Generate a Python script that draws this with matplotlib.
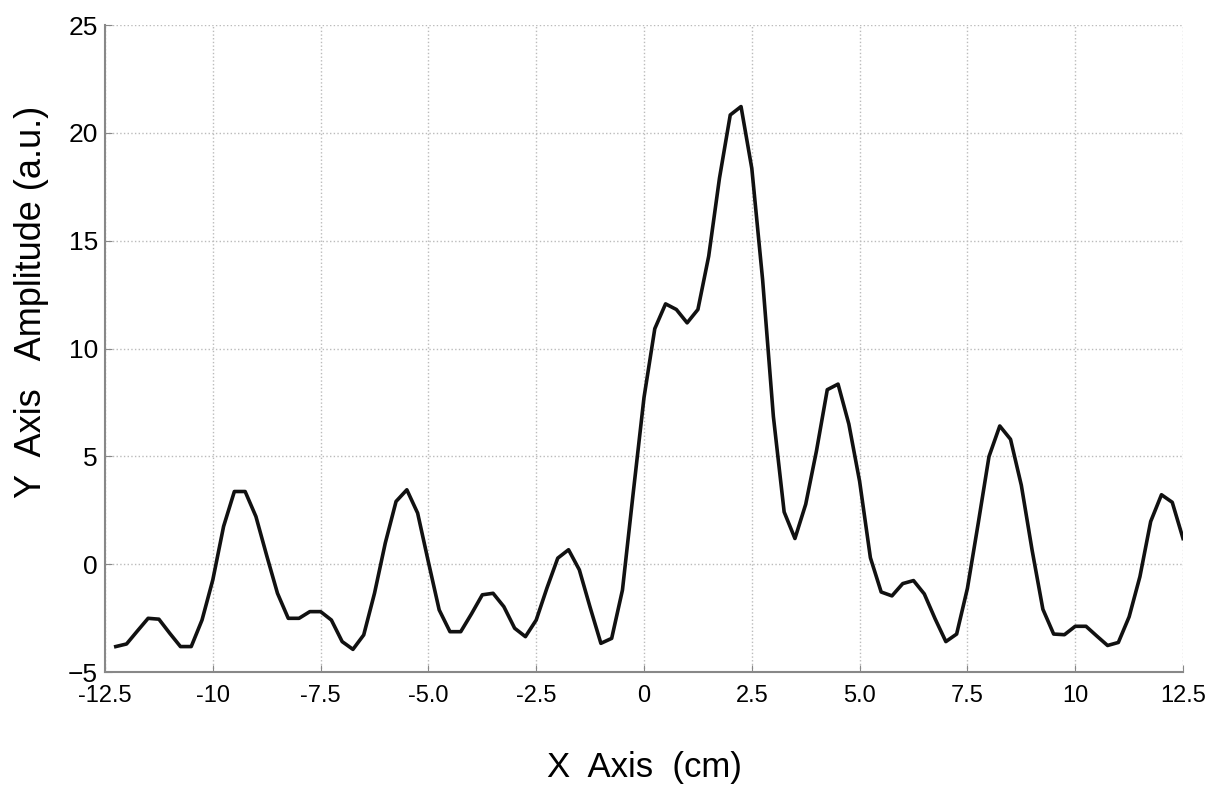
import numpy as np
import matplotlib
matplotlib.use("Agg")
import matplotlib.pyplot as plt

plt.rcParams['font.family'] = ['Liberation Sans', 'DejaVu Sans']

x_cm = np.arange(-12.25, 12.51, 0.25)
amplitude = [
    -3.82, -3.70, -3.10, -2.51, -2.55, -3.20, -3.82, -3.82, -2.59, -0.73,
    1.75, 3.37, 3.37, 2.21, 0.40, -1.35, -2.51, -2.51, -2.20, -2.20,
    -2.59, -3.59, -3.95, -3.28, -1.35, 0.98, 2.91, 3.45, 2.37, 0.10,
    -2.12, -3.13, -3.13, -2.30, -1.42, -1.35, -1.97, -2.97, -3.36, -2.59,
    -1.10, 0.28, 0.67, -0.26, -2.00, -3.67, -3.44, -1.20, 3.31, 7.73,
    10.92, 12.07, 11.81, 11.19, 11.81, 14.28, 17.90, 20.83, 21.22, 18.35,
    13.20, 6.85, 2.42, 1.19, 2.78, 5.26, 8.09, 8.35, 6.50, 3.84,
    0.30, -1.29, -1.47, -0.90, -0.76, -1.38, -2.53, -3.59, -3.24, -1.12,
    1.89, 4.99, 6.41, 5.79, 3.66, 0.65, -2.09, -3.24, -3.27, -2.88,
    -2.88, -3.33, -3.77, -3.63, -2.44, -0.58, 1.98, 3.22, 2.87, 1.19,
]

x_ticks = [-12.5, -10, -7.5, -5, -2.5, 0, 2.5, 5, 7.5, 10, 12.5]
x_tick_labels = ['-12.5', '-10', '-7.5', '-5.0', '-2.5', '0', '2.5', '5.0', '7.5', '10', '12.5']
y_ticks = [-5, 0, 5, 10, 15, 20, 25]

fig = plt.figure(figsize=(12.11, 7.92), dpi=100)
ax = fig.add_axes([0.0867, 0.1515, 0.8902, 0.8169])

ax.plot(x_cm, amplitude, color='#111111', linewidth=2.6)

ax.set_xlim(-12.5, 12.5)
ax.set_ylim(-5, 25)
ax.set_xticks(x_ticks)
ax.set_xticklabels(x_tick_labels)
ax.set_yticks(y_ticks)

ax.grid(True, linestyle=':', color='#bbbbbb', linewidth=1.0)
ax.set_axisbelow(True)

for side in ['top', 'right']:
    ax.spines[side].set_visible(False)
for side in ['left', 'bottom']:
    ax.spines[side].set_color('#888888')
    ax.spines[side].set_linewidth(1.5)

ax.tick_params(axis='both', direction='in', length=5, color='#888888')
ax.tick_params(axis='x', labelsize=17, pad=9)
ax.tick_params(axis='y', labelsize=19, pad=5)

ax.set_xlabel('X  Axis  (cm)', fontsize=25, labelpad=32)
ax.set_ylabel('Y  Axis   Amplitude (a.u.)', fontsize=26)
ax.yaxis.set_label_coords(-0.052, 0.572)

fig.savefig('out.png', dpi=100)
